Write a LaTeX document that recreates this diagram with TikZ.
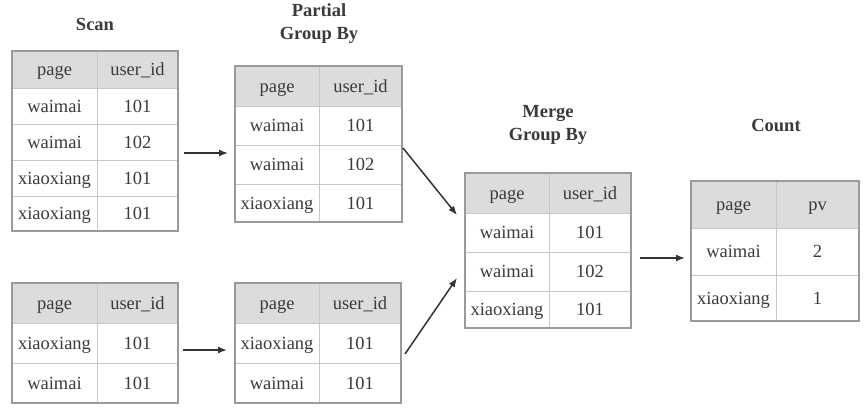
\documentclass[tikz,border=0pt]{standalone}
\usepackage{fontspec}
\setmainfont{Liberation Serif}
\usetikzlibrary{arrows.meta}
\definecolor{txt}{HTML}{3A3A3A}
\definecolor{hdr}{HTML}{DCDCDC}
\definecolor{inner}{HTML}{C8C8C8}
\definecolor{outer}{HTML}{9A9A9A}
\definecolor{arr}{HTML}{333333}
\tikzset{
  cell/.style={draw=inner, line width=0.8pt, inner sep=0pt, text=txt,
    text height=14pt, text depth=2pt,
    font=\fontsize{18.5}{22}\selectfont},
  hcell/.style={cell, fill=hdr},
  outline/.style={draw=outer, line width=1.3pt, inner sep=0pt},
  title/.style={text=txt, align=center, font=\fontsize{18.5}{23}\selectfont\bfseries},
  flow/.style={draw=arr, line width=1.5pt, -{Latex[length=9pt,width=7pt]}}
}
% #1 name, #2 xl, #3 xd, #4 xr, #5 ytop, #6 ybot, #7 left text, #8 right text, #9 style
\newcommand\trow[9]{%
  \node[#9, minimum width={(#3-#2)*1pt}, minimum height={(#6-#5)*1pt}]
    (#1l) at ({(#2+#3)/2},{(#5+#6)/2}) {#7};
  \node[#9, minimum width={(#4-#3)*1pt}, minimum height={(#6-#5)*1pt}]
    (#1r) at ({(#3+#4)/2},{(#5+#6)/2}) {#8};
}
% #1 name, #2 xl, #3 ytop, #4 xr, #5 ybot
\newcommand\tframe[5]{%
  \node[outline, minimum width={(#4-#2)*1pt}, minimum height={(#5-#3)*1pt}]
    (#1) at ({(#2+#4)/2},{(#3+#5)/2}) {};
}
\begin{document}
\begin{tikzpicture}[x=1pt,y=-1pt]
\useasboundingbox (0,0) rectangle (864,413);
% titles
\node[title] (ttl1) at (95,24) {Scan};
\node[title] (ttl2) at (319,24) {Partial\\Group By};
\node[title] (ttl3) at (548,125) {Merge\\Group By};
\node[title] (ttl4) at (776,125) {Count};
% Table 1
\trow{a0}{12}{97}{178}{51}{88}{page}{user\_id}{hcell}
\trow{a1}{12}{97}{178}{88}{124}{waimai}{101}{cell}
\trow{a2}{12}{97}{178}{124}{160}{waimai}{102}{cell}
\trow{a3}{12}{97}{178}{160}{196}{xiaoxiang}{101}{cell}
\trow{a4}{12}{97}{178}{196}{231}{xiaoxiang}{101}{cell}
\tframe{T1}{12}{51}{178}{231}
% Table 2
\trow{b0}{12}{97}{178}{283}{323}{page}{user\_id}{hcell}
\trow{b1}{12}{97}{178}{323}{363}{xiaoxiang}{101}{cell}
\trow{b2}{12}{97}{178}{363}{403}{waimai}{101}{cell}
\tframe{T2}{12}{283}{178}{403}
% Table 3
\trow{c0}{235}{319}{402}{66}{106}{page}{user\_id}{hcell}
\trow{c1}{235}{319}{402}{106}{145}{waimai}{101}{cell}
\trow{c2}{235}{319}{402}{145}{184}{waimai}{102}{cell}
\trow{c3}{235}{319}{402}{184}{222}{xiaoxiang}{101}{cell}
\tframe{T3}{235}{66}{402}{222}
% Table 4
\trow{d0}{235}{319}{401}{283}{323}{page}{user\_id}{hcell}
\trow{d1}{235}{319}{401}{323}{363}{xiaoxiang}{101}{cell}
\trow{d2}{235}{319}{401}{363}{403}{waimai}{101}{cell}
\tframe{T4}{235}{283}{401}{403}
% Table 5
\trow{e0}{465}{549}{631}{173}{213}{page}{user\_id}{hcell}
\trow{e1}{465}{549}{631}{213}{252}{waimai}{101}{cell}
\trow{e2}{465}{549}{631}{252}{291}{waimai}{102}{cell}
\trow{e3}{465}{549}{631}{291}{328}{xiaoxiang}{101}{cell}
\tframe{T5}{465}{173}{631}{328}
% Table 6
\trow{f0}{691}{776}{859}{181}{228}{page}{pv}{hcell}
\trow{f1}{691}{776}{859}{228}{275}{waimai}{2}{cell}
\trow{f2}{691}{776}{859}{275}{321}{xiaoxiang}{1}{cell}
\tframe{T6}{691}{181}{859}{321}
% arrow end points
\coordinate (p1s) at (184,153); \coordinate (p1e) at (228,153);
\coordinate (p2s) at (183,350); \coordinate (p2e) at (227,350);
\coordinate (p3s) at (403,148); \coordinate (p3e) at (457,215);
\coordinate (p4s) at (405,354); \coordinate (p4e) at (457,278);
\coordinate (p5s) at (640,258); \coordinate (p5e) at (685,258);
\draw[flow] (p1s) -- (p1e);
\draw[flow] (p2s) -- (p2e);
\draw[flow] (p3s) -- (p3e);
\draw[flow] (p4s) -- (p4e);
\draw[flow] (p5s) -- (p5e);
\end{tikzpicture}
\end{document}
